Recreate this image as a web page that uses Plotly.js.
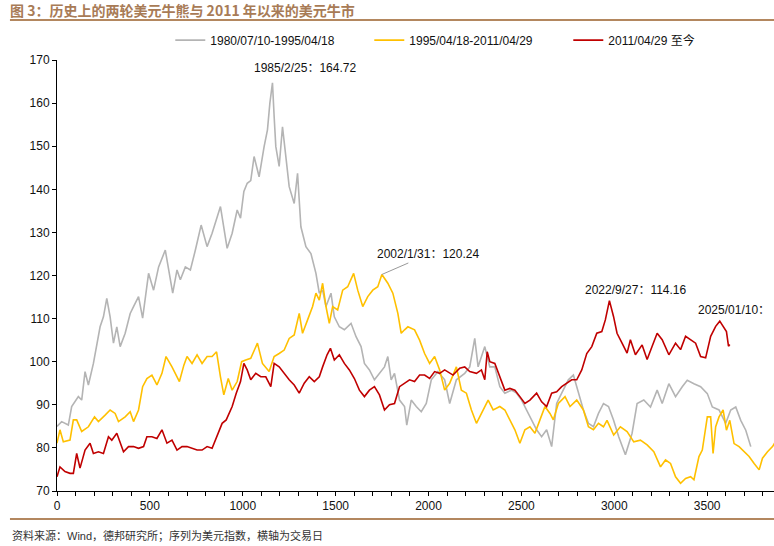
<!DOCTYPE html>
<html>
<head>
<meta charset="utf-8">
<script src="https://cdn.plot.ly/plotly-3.0.1.min.js"></script>
<style>
  html, body { margin: 0; padding: 0; background: #fff; }
  #myDiv { width: 774px; height: 546px; }
</style>
</head>
<body>
<div id="myDiv"></div>
<script>
// 1980/07/10-1995/04/18
var grayX = [0, 25, 61, 79, 115, 133, 151, 169, 196, 214, 232, 250, 268, 286, 304, 322, 340, 367, 394, 412,
  439, 461, 493, 520, 547, 583, 623, 646, 664, 691, 718, 745, 776, 808, 835, 880, 916, 943, 970, 988,
  1006, 1024, 1043, 1061, 1088, 1115, 1133, 1146, 1160, 1169, 1178, 1196, 1214, 1232, 1250, 1277, 1295, 1313, 1340, 1367,
  1394, 1412, 1430, 1448, 1475, 1493, 1520, 1547, 1583, 1610, 1637, 1655, 1682, 1709, 1736, 1763, 1781, 1799, 1817, 1844,
  1871, 1883, 1907, 1934, 1961, 1988, 2015, 2051, 2087, 2114, 2150, 2195, 2222, 2249, 2267, 2303, 2330, 2357, 2384, 2411,
  2447, 2474, 2501, 2528, 2555, 2582, 2609, 2636, 2663, 2690, 2717, 2753, 2780, 2807, 2834, 2861, 2888, 2915, 2942, 2969,
  2996, 3024, 3060, 3096, 3123, 3159, 3195, 3231, 3258, 3294, 3330, 3366, 3393, 3429, 3465, 3501, 3528, 3564, 3600, 3627,
  3654, 3681, 3708, 3735];
var grayY = [85.0, 86.1, 85.3, 89.6, 91.9, 91.1, 97.7, 94.6, 99.6, 104.3, 108.1, 110.4, 114.7, 110.4, 104.3, 108.1, 103.5, 106.6, 111.2, 112.8,
  115.1, 110.1, 120.5, 116.6, 122.0, 125.9, 115.9, 121.3, 119.0, 122.0, 121.3, 125.9, 131.7, 126.7, 129.8, 136.0, 126.3, 129.8, 135.2, 133.3,
  139.5, 141.4, 142.0, 147.6, 142.9, 149.9, 153.8, 160.0, 164.7, 156.9, 149.9, 145.3, 154.5, 147.6, 140.6, 136.7, 143.7, 131.3, 126.7, 125.1,
  120.5, 115.9, 116.6, 112.8, 115.9, 110.4, 108.1, 107.4, 108.9, 105.8, 103.5, 99.6, 98.1, 95.8, 97.3, 98.8, 101.2, 95.8, 97.3, 91.1,
  89.6, 85.3, 91.1, 89.6, 88.4, 90.3, 95.8, 97.7, 95.8, 90.3, 95.8, 97.3, 98.8, 105.4, 98.8, 103.5, 98.8, 98.8, 94.2, 92.7,
  93.4, 92.7, 91.1, 88.8, 86.5, 84.2, 82.6, 84.2, 80.3, 90.3, 92.7, 95.8, 96.9, 92.7, 88.8, 85.7, 84.9, 88.0, 90.3, 89.6,
  86.5, 82.6, 78.4, 83.4, 90.3, 91.1, 89.5, 93.4, 90.3, 94.9, 91.9, 94.2, 95.7, 94.9, 94.2, 92.6, 89.5, 88.8, 85.7, 88.8,
  89.5, 86.4, 84.1, 80.3];

// 1995/04/18-2011/04/29
var yellowX = [0, 16, 34, 70, 88, 106, 133, 169, 202, 223, 259, 286, 313, 331, 367, 394, 412, 439, 461, 484,
  511, 538, 565, 587, 619, 659, 683, 700, 727, 754, 781, 808, 835, 859, 880, 898, 922, 943, 970, 994,
  1016, 1043, 1079, 1106, 1142, 1169, 1196, 1223, 1250, 1277, 1304, 1322, 1349, 1376, 1394, 1412, 1430, 1448, 1466, 1484,
  1511, 1538, 1565, 1597, 1619, 1646, 1673, 1700, 1727, 1749, 1781, 1808, 1835, 1853, 1871, 1889, 1925, 1952, 1979, 2006,
  2033, 2060, 2087, 2114, 2150, 2177, 2204, 2231, 2258, 2285, 2321, 2348, 2384, 2411, 2438, 2465, 2492, 2519, 2546, 2573,
  2600, 2627, 2654, 2672, 2699, 2735, 2762, 2798, 2834, 2861, 2888, 2915, 2942, 2961, 2997, 3033, 3069, 3105, 3141, 3177,
  3213, 3249, 3276, 3303, 3330, 3357, 3384, 3411, 3429, 3456, 3474, 3501, 3519, 3532, 3546, 3564, 3586, 3604, 3622, 3645,
  3672, 3699, 3726, 3753, 3780, 3798, 3825, 3852, 3867, 3890];
var yellowY = [81.1, 84.2, 81.4, 81.8, 86.5, 86.5, 83.8, 84.9, 87.2, 86.1, 87.6, 88.8, 88.0, 86.1, 87.2, 88.4, 86.1, 88.8, 94.2, 96.1,
  96.9, 94.6, 97.3, 101.2, 98.8, 95.4, 99.2, 101.2, 99.6, 101.6, 99.6, 101.2, 101.2, 102.3, 96.5, 92.3, 96.1, 93.4, 95.4, 100.0,
  100.4, 100.8, 104.3, 99.6, 97.7, 101.2, 101.9, 102.7, 105.4, 106.2, 111.2, 106.6, 109.7, 112.8, 115.9, 114.3, 118.2, 112.8, 108.9, 112.8,
  112.0, 116.6, 117.4, 120.5, 116.6, 112.8, 115.1, 116.6, 117.4, 120.24, 118.2, 115.9, 111.2, 106.6, 107.4, 108.1, 107.4, 105.0, 101.9, 99.6,
  101.2, 98.1, 93.4, 95.0, 98.8, 93.4, 92.7, 88.8, 85.7, 88.0, 91.1, 88.8, 89.6, 88.8, 86.5, 84.2, 81.1, 84.2, 84.9, 83.4,
  86.5, 89.6, 88.0, 86.5, 90.3, 91.9, 89.6, 91.1, 88.8, 84.9, 84.2, 85.7, 84.9, 86.4, 83.0, 84.9, 83.8, 81.4, 81.8, 80.7,
  79.1, 75.6, 77.2, 76.4, 73.3, 71.8, 72.9, 73.3, 72.6, 78.0, 79.5, 87.2, 87.2, 78.7, 84.9, 87.2, 88.8, 84.1, 86.4, 81.0,
  80.3, 79.1, 78.0, 76.4, 74.9, 77.6, 79.1, 80.3, 81.4, 80.6];

// 2011/04/29 至今
var redX = [0, 16, 43, 70, 88, 106, 124, 151, 178, 196, 223, 250, 277, 295, 322, 340, 358, 385, 412, 439,
  466, 484, 511, 538, 565, 592, 619, 646, 673, 700, 727, 754, 781, 808, 835, 862, 889, 911, 925, 943,
  965, 988, 1006, 1024, 1043, 1070, 1097, 1124, 1151, 1169, 1196, 1223, 1250, 1277, 1304, 1331, 1358, 1385, 1412, 1430,
  1454, 1472, 1493, 1520, 1547, 1574, 1601, 1628, 1655, 1682, 1709, 1736, 1763, 1790, 1817, 1844, 1871, 1898, 1925, 1952,
  1979, 2006, 2033, 2060, 2087, 2132, 2168, 2195, 2222, 2258, 2285, 2303, 2316, 2330, 2357, 2384, 2411, 2438, 2465, 2492,
  2519, 2546, 2582, 2609, 2636, 2663, 2690, 2717, 2744, 2771, 2798, 2825, 2852, 2879, 2906, 2933, 2952, 2974, 2996, 3015,
  3042, 3069, 3087, 3114, 3150, 3177, 3204, 3231, 3258, 3294, 3330, 3357, 3384, 3411, 3438, 3465, 3492, 3519, 3546, 3568,
  3591, 3604, 3615, 3622];
var redY = [73.3, 75.6, 74.5, 74.1, 74.1, 78.7, 75.3, 79.5, 81.1, 78.7, 79.1, 78.7, 82.6, 81.8, 83.4, 81.4, 79.1, 80.3, 80.3, 79.9,
  80.3, 82.6, 82.6, 82.2, 84.2, 81.1, 81.8, 79.5, 80.3, 80.3, 79.9, 79.5, 79.5, 80.3, 79.9, 82.6, 85.7, 86.5, 88.0, 89.6,
  92.7, 95.4, 99.6, 98.1, 95.8, 97.3, 96.5, 96.5, 94.2, 99.6, 98.8, 97.3, 95.8, 94.6, 92.7, 95.0, 96.5, 95.4, 96.5, 98.8,
  101.6, 103.1, 100.4, 101.6, 99.6, 98.1, 96.1, 93.4, 91.9, 93.4, 94.2, 92.3, 88.8, 90.0, 90.3, 94.2, 95.0, 95.8, 95.4, 96.9,
  96.9, 96.1, 97.7, 97.3, 98.1, 96.9, 98.5, 98.8, 97.7, 97.3, 98.1, 95.8, 102.3, 100.0, 99.6, 96.5, 93.4, 93.8, 93.4, 91.9,
  90.3, 91.1, 92.7, 90.7, 89.6, 92.7, 93.0, 94.2, 95.0, 95.8, 95.8, 98.1, 101.9, 103.5, 106.6, 107.0, 109.7, 114.16, 110.5, 106.6,
  104.3, 102.0, 105.1, 101.6, 103.9, 100.5, 103.6, 106.6, 105.1, 101.6, 104.3, 102.8, 105.9, 105.1, 104.3, 101.2, 100.9, 105.9, 108.2, 109.4,
  107.8, 107.0, 103.6, 104.0];

var seriesNames = ['1980/07/10-1995/04/18', '1995/04/18-2011/04/29', '2011/04/29 至今'];

var trace1 = {
  x: grayX, y: grayY, type: 'scatter', mode: 'lines', name: seriesNames[0],
  line: { color: '#b4b4b4', width: 1.6 }
};
var trace2 = {
  x: yellowX, y: yellowY, type: 'scatter', mode: 'lines', name: seriesNames[1],
  line: { color: '#ffc000', width: 1.6 }
};
var trace3 = {
  x: redX, y: redY, type: 'scatter', mode: 'lines', name: seriesNames[2],
  legendwidth: 100,
  line: { color: '#c00000', width: 1.6 }
};

var data = [trace1, trace2, trace3];

var baseFont = 'Liberation Sans, Arial, "Noto Sans CJK SC", sans-serif';
var brown = '#a87b56';

var layout = {
  width: 774,
  height: 546,
  margin: { l: 57, r: 0, t: 60, b: 55, autoexpand: false },
  paper_bgcolor: '#fff',
  plot_bgcolor: '#fff',
  font: { family: baseFont, size: 12, color: '#111' },
  title: {
    text: '图 3：历史上的两轮美元牛熊与 2011 年以来的美元牛市',
    xref: 'container', yref: 'container',
    x: 10 / 774, xanchor: 'left',
    y: 1 - 11 / 546, yanchor: 'middle',
    font: { family: '"Noto Sans CJK SC", sans-serif', size: 14, color: brown, weight: 'bold' }
  },
  showlegend: true,
  legend: {
    orientation: 'h',
    x: 0.158, xanchor: 'left',
    y: 1.046, yanchor: 'middle',
    entrywidth: 154,
    font: { size: 12, color: '#111' },
    bgcolor: 'rgba(0,0,0,0)'
  },
  xaxis: {
    range: [0, 3860],
    showgrid: false, zeroline: false,
    showline: true, linecolor: '#000', linewidth: 1,
    ticks: 'outside', ticklen: 4, tickcolor: '#000',
    tick0: 0, dtick: 500,
    minor: { dtick: 100, ticks: 'outside', ticklen: 4, tickcolor: '#000' },
    tickfont: { size: 12, color: '#111' }
  },
  yaxis: {
    range: [70, 170],
    showgrid: false, zeroline: false,
    showline: true, linecolor: '#000', linewidth: 1,
    ticks: 'outside', ticklen: 4, tickcolor: '#000',
    dtick: 10,
    tickfont: { size: 12, color: '#111' }
  },
  shapes: [
    { type: 'line', xref: 'paper', yref: 'paper', x0: -0.0656, x1: 1, y0: 1.0928, y1: 1.0928,
      line: { color: '#b3875f', width: 2 } },
    { type: 'line', xref: 'paper', yref: 'paper', x0: -0.0656, x1: 1, y0: -0.065, y1: -0.065,
      line: { color: '#b3875f', width: 2 } }
  ],
  annotations: [
    { x: 1333, y: 168.1, text: '1985/2/25：164.72', showarrow: false,
      xanchor: 'center', yanchor: 'middle', font: { size: 12, color: '#111' } },
    { x: 1749, y: 120.24, text: '2002/1/31：120.24', showarrow: true, arrowhead: 0,
      arrowwidth: 1, arrowcolor: '#999', ax: 46, ay: -20, standoff: 0,
      font: { size: 12, color: '#111' } },
    { x: 3118, y: 116.6, text: '2022/9/27：114.16', showarrow: false,
      xanchor: 'center', yanchor: 'middle', font: { size: 12, color: '#111' } },
    { x: 3441, y: 112.0, text: '2025/01/10：', showarrow: false,
      xanchor: 'left', yanchor: 'middle', font: { size: 12, color: '#111' } },
    { xref: 'paper', yref: 'paper', x: -0.0656, y: -0.1044, xanchor: 'left', yanchor: 'middle',
      text: '资料来源：Wind，德邦研究所；序列为美元指数，横轴为交易日', showarrow: false,
      font: { size: 11, color: '#333' } }
  ]
};

Plotly.newPlot('myDiv', data, layout, { displayModeBar: false });
</script>
</body>
</html>
